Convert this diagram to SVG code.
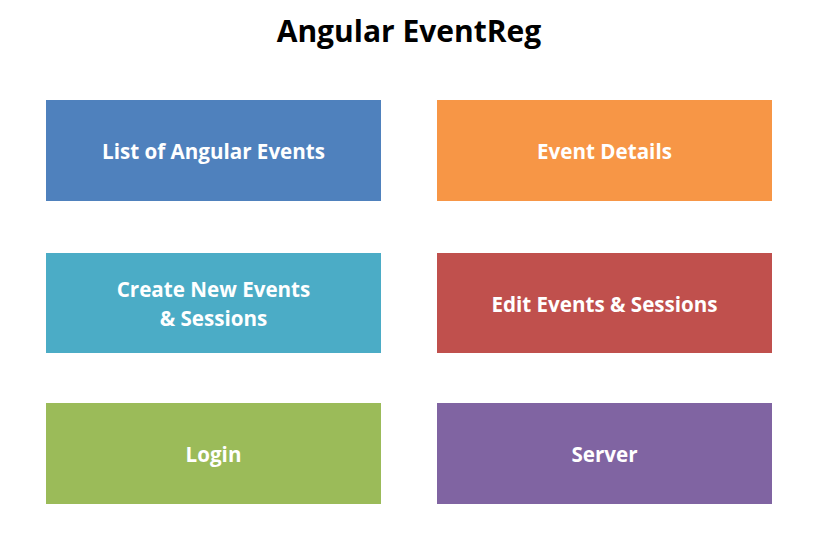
<svg xmlns="http://www.w3.org/2000/svg" width="817" height="557" viewBox="0 0 817 557">
<style>
.t{font-family:"Open Sans","Noto Sans","Liberation Sans",sans-serif;font-weight:bold;fill:#fff;font-size:20.6px;text-anchor:middle}
.h{font-family:"Open Sans","Noto Sans","Liberation Sans",sans-serif;font-weight:bold;fill:#000;font-size:30px;text-anchor:middle}
</style>
<rect width="817" height="557" fill="#fff"/>
<text class="h" x="409" y="42">Angular EventReg</text>
<g id="list"><rect x="46" y="100" width="335" height="101" fill="#4F81BD"/><text class="t" x="213.5" y="159">List of Angular Events</text></g>
<g id="details"><rect x="437" y="100" width="335" height="101" fill="#F79646"/><text class="t" x="604.5" y="159">Event Details</text></g>
<g id="create"><rect x="46" y="253" width="335" height="100" fill="#4BACC6"/><text class="t" x="213.5" y="297">Create New Events</text><text class="t" x="213.5" y="326">&amp; Sessions</text></g>
<g id="edit"><rect x="437" y="253" width="335" height="100" fill="#C0504D"/><text class="t" x="604.5" y="312">Edit Events &amp; Sessions</text></g>
<g id="login"><rect x="46" y="403" width="335" height="101" fill="#9BBB59"/><text class="t" x="213.5" y="462">Login</text></g>
<g id="server"><rect x="437" y="403" width="335" height="101" fill="#8064A2"/><text class="t" x="604.5" y="462">Server</text></g>
<g id="connectors"></g>
</svg>
